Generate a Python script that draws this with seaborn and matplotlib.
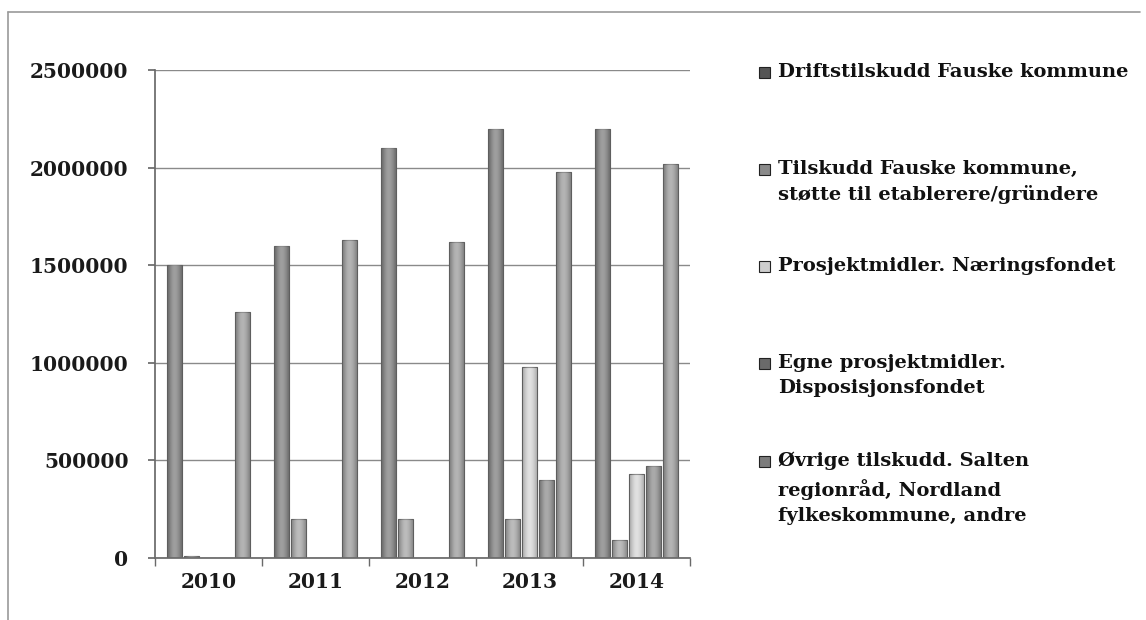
import numpy as np
import pandas as pd
import matplotlib
matplotlib.use("Agg")
import matplotlib.pyplot as plt
from matplotlib.patches import Rectangle
from matplotlib.lines import Line2D
import seaborn as sns

years = ["2010", "2011", "2012", "2013", "2014"]
series = [
    "Driftstilskudd Fauske kommune",
    "Tilskudd Fauske kommune,\nstøtte til etablerere/gründere",
    "Prosjektmidler. Næringsfondet",
    "Egne prosjektmidler.\nDisposisjonsfondet",
    "Øvrige tilskudd. Salten\nregionråd, Nordland\nfylkeskommune, andre",
]
drift = [1500000, 1600000, 2100000, 2200000, 2200000]
etablerere = [10000, 200000, 200000, 200000, 90000]
naeringsfond = [0, 0, 0, 980000, 430000]
disposisjonsfond = [0, 0, 0, 400000, 470000]
ovrige = [1260000, 1630000, 1620000, 1980000, 2020000]
yticks = [0, 500000, 1000000, 1500000, 2000000, 2500000]

values = [drift, etablerere, naeringsfond, disposisjonsfond, ovrige]
df = pd.DataFrame({
    "year": np.tile(years, len(series)),
    "series": np.repeat(series, len(years)),
    "value": np.concatenate(values),
})

colors = ["#555555", "#8a8a8a", "#cdcdcd", "#6a6a6a", "#7c7c7c"]

sns.set_theme(style="white")
plt.rcParams["font.family"] = ["DejaVu Serif"]

fig = plt.figure(figsize=(11.46, 6.2), dpi=100)
ax = fig.add_axes([155/1146, 1-558/620, 535/1146, 488/620])

sns.barplot(data=df, x="year", y="value", hue="series", hue_order=series,
            order=years, palette=colors, width=0.8, gap=0.12,
            edgecolor="#3a3a3a", linewidth=0.8, legend=False, ax=ax,
            errorbar=None, saturation=1)

# cylinder-like shading on each bar
shade = np.array([[0.55, 0.35, 0.1, 0.0, 0.15, 0.35, 0.55]])
for p in list(ax.patches):
    h = p.get_height()
    if h <= 0:
        continue
    x0, w = p.get_x(), p.get_width()
    im = ax.imshow(shade, cmap="Greys", vmin=0, vmax=1, alpha=0.45,
                   extent=[x0, x0 + w, 0, h], aspect="auto",
                   interpolation="bicubic", zorder=p.get_zorder() + 0.1)
    im.set_clip_path(p)

ax.set_ylim(0, 2500000)
ax.set_xlim(-0.5, 4.5)
ax.set_yticks(yticks)
ax.set_yticklabels([str(v) for v in yticks])
ax.yaxis.grid(True, color="#8a8a8a", linewidth=1.0)
ax.set_axisbelow(True)
ax.set_xlabel("")
ax.set_ylabel("")
for s in ["top", "right"]:
    ax.spines[s].set_visible(False)
ax.spines["left"].set_color("#6a6a6a")
ax.spines["bottom"].set_color("#6a6a6a")
ax.tick_params(axis="y", labelsize=14.5, pad=14, left=True, length=5, color="#6a6a6a")
ax.tick_params(axis="x", labelsize=14.5, pad=4, bottom=False)
for lab in ax.get_yticklabels() + ax.get_xticklabels():
    lab.set_fontweight("bold")
    lab.set_color("#1a1a1a")
ax.set_xticks(np.arange(-0.5, 5.0, 1.0), minor=True)
ax.tick_params(axis="x", which="minor", bottom=True, length=6, color="#6a6a6a")

# outer border (top and left)
fig.add_artist(Line2D([8/1146, 1140/1146], [1-12/620, 1-12/620], color="#9a9a9a", lw=1.2))
fig.add_artist(Line2D([8/1146, 8/1146], [1-12/620, 0], color="#9a9a9a", lw=1.2))

# legend drawn manually with uniform spacing
tops = [63, 160, 257, 354, 452]
for name, col, top in zip(series, colors, tops):
    fig.add_artist(Rectangle((759/1146, 1-(top+15)/620), 11/1146, 11/620,
                             facecolor=col, edgecolor="#222222", lw=0.8))
    fig.text(778/1146, 1-top/620, name, fontsize=14, fontweight="bold",
             va="top", ha="left", linespacing=1.5, color="#111111")

fig.savefig("out.png", dpi=100)
